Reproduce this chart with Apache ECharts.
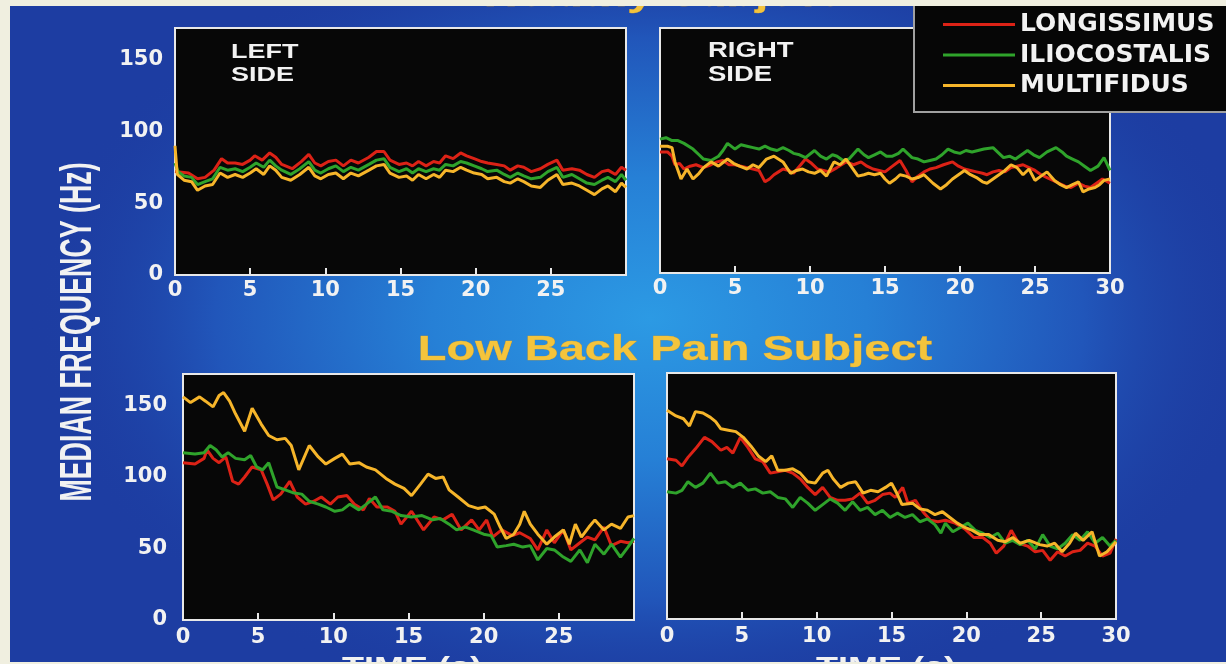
<!DOCTYPE html>
<html><head><meta charset="utf-8">
<script src="https://cdn.jsdelivr.net/npm/echarts@6/dist/echarts.min.js"></script>
<style>html,body{margin:0;padding:0;background:#f0efe0;}#c{width:1226px;height:664px;}</style>
</head><body><div id="c"></div>
<script>
// ---- data (time in s, median frequency in Hz) ----
const muscles = ['LONGISSIMUS', 'ILIOCOSTALIS', 'MULTIFIDUS'];
const muscleColors = ['#dc2216', '#2fa32b', '#f6b52a'];
const timeTicks = [0, 5, 10, 15, 20, 25, 30];
const freqTicks = [0, 50, 100, 150];
const freqMax = 172;

// Healthy subject, left side
const hlLongissimus = [[0,72],[0.9,71],[1.5,67],[2,68],[2.6,73],[3.1,81],[3.5,78],[4,78],[4.5,77],[5,80],[5.3,83],[5.8,80],[6.3,85],[6.7,82],[7.1,77],[7.8,74],[8.4,79],[8.9,84],[9.3,78],[9.7,76],[10.2,79],[10.7,80],[11.2,76],[11.7,80],[12.2,78],[12.9,82],[13.4,86],[13.9,86],[14.3,80],[14.9,77],[15.4,78],[15.8,76],[16.2,79],[16.7,76],[17.2,79],[17.6,78],[18,83],[18.5,81],[19,85],[19.4,83],[19.9,81],[20.4,79],[20.8,78],[21.4,77],[21.9,76],[22.3,73],[22.8,76],[23.2,75],[23.7,72],[24.3,74],[24.8,77],[25.4,80],[25.8,73],[26.4,74],[26.9,73],[27.4,70],[27.9,68],[28.4,72],[28.8,73],[29.3,70],[29.7,75],[30,73]];
const hlIliocostalis = [[0,78],[0.2,72],[0.6,69],[1.1,68],[1.5,63],[2,65],[2.5,67],[3,75],[3.5,73],[4,74],[4.5,72],[5,75],[5.4,78],[5.9,75],[6.3,80],[6.7,76],[7.1,73],[7.7,70],[8.3,74],[8.9,79],[9.3,73],[9.7,71],[10.2,74],[10.7,76],[11.2,72],[11.7,75],[12.2,73],[12.9,77],[13.4,80],[13.9,81],[14.3,75],[14.9,72],[15.4,74],[15.8,71],[16.2,74],[16.7,72],[17.2,74],[17.6,73],[18,77],[18.5,76],[19,79],[19.4,78],[19.9,76],[20.4,74],[20.8,72],[21.4,73],[21.9,70],[22.3,68],[22.8,71],[23.2,69],[23.7,67],[24.3,68],[24.8,72],[25.4,75],[25.8,68],[26.4,70],[26.9,67],[27.4,64],[27.9,63],[28.4,66],[28.8,68],[29.3,65],[29.7,70],[30,66]];
const hlMultifidus = [[0,90],[0.15,70],[0.6,66],[1.1,65],[1.5,59],[2,62],[2.5,63],[3,71],[3.5,68],[4,70],[4.5,68],[5,71],[5.4,74],[5.9,70],[6.3,76],[6.7,73],[7.1,68],[7.7,66],[8.3,70],[8.9,75],[9.3,69],[9.7,67],[10.2,70],[10.7,71],[11.2,67],[11.7,71],[12.2,69],[12.9,73],[13.4,76],[13.9,77],[14.3,71],[14.9,68],[15.4,69],[15.8,66],[16.2,70],[16.7,67],[17.2,70],[17.6,68],[18,73],[18.5,72],[19,75],[19.4,73],[19.9,71],[20.4,70],[20.8,67],[21.4,68],[21.9,65],[22.3,64],[22.8,67],[23.2,65],[23.7,62],[24.3,61],[24.8,66],[25.4,70],[25.8,63],[26.4,64],[26.9,62],[27.4,59],[27.9,56],[28.4,60],[28.8,62],[29.3,58],[29.7,64],[30,61]];

// Healthy subject, right side
const hrLongissimus = [[0,85],[0.5,85],[0.8,82],[1.0,76],[1.3,77],[1.6,73],[2.0,75],[2.4,76],[2.9,74],[3.4,76],[3.8,78],[4.2,79],[4.6,76],[5.0,76],[5.4,75],[5.8,74],[6.2,73],[6.6,72],[7.0,64],[7.3,66],[7.6,69],[7.9,71],[8.2,73],[8.6,72],[8.9,70],[9.3,75],[9.7,80],[10.1,77],[10.5,73],[10.9,72],[11.3,71],[11.8,74],[12.4,78],[12.9,76],[13.4,78],[13.8,75],[14.2,73],[14.6,72],[15.0,71],[15.5,75],[16.0,79],[16.4,72],[16.8,64],[17.2,68],[17.6,71],[18.0,73],[18.4,74],[18.9,76],[19.5,78],[19.9,75],[20.3,73],[20.7,72],[21.1,71],[21.5,70],[21.8,69],[22.2,71],[22.6,72],[23.0,71],[23.4,74],[23.8,75],[24.2,76],[24.6,74],[25.0,72],[25.4,69],[25.8,67],[26.2,65],[26.6,63],[27.0,61],[27.4,60],[27.9,63],[28.3,61],[28.7,60],[29.1,63],[29.5,66],[30,63]];
const hrIliocostalis = [[0,94],[0.4,95],[0.8,93],[1.2,93],[1.6,91],[2.2,87],[2.6,83],[2.9,80],[3.4,79],[3.9,82],[4.2,86],[4.5,91],[5.0,87],[5.4,90],[5.8,89],[6.2,88],[6.6,87],[7.0,89],[7.4,87],[7.8,86],[8.2,88],[8.6,86],[8.9,84],[9.3,83],[9.7,81],[10.3,86],[10.7,82],[11.1,80],[11.5,83],[11.8,82],[12.2,79],[12.6,80],[13.2,87],[13.6,83],[13.9,81],[14.3,83],[14.7,85],[15.1,82],[15.5,82],[15.9,84],[16.2,87],[16.5,84],[16.8,81],[17.2,80],[17.6,78],[18.0,79],[18.4,80],[18.8,83],[19.2,87],[19.6,85],[20.0,84],[20.4,86],[20.8,85],[21.2,86],[21.6,87],[22.2,88],[22.6,84],[22.9,81],[23.3,82],[23.7,80],[24.1,83],[24.5,86],[24.9,83],[25.3,81],[25.8,85],[26.4,88],[26.8,85],[27.1,82],[27.5,80],[27.9,78],[28.3,75],[28.7,72],[29.2,75],[29.6,81],[30,72]];
const hrMultifidus = [[0,89],[0.5,89],[0.8,88],[1.0,78],[1.4,66],[1.8,73],[2.2,66],[2.6,70],[2.9,74],[3.4,78],[3.9,75],[4.5,80],[4.9,77],[5.3,75],[5.8,73],[6.2,76],[6.6,74],[7.1,80],[7.6,82],[8.2,78],[8.7,70],[9.1,72],[9.5,73],[9.9,71],[10.3,70],[10.7,72],[11.1,68],[11.6,78],[12.0,76],[12.4,80],[12.8,74],[13.2,68],[13.6,69],[13.9,70],[14.3,69],[14.7,70],[15.0,66],[15.3,63],[15.7,66],[16.0,69],[16.4,68],[16.8,66],[17.2,67],[17.6,69],[18.2,63],[18.7,59],[19.1,62],[19.5,66],[19.9,69],[20.3,72],[20.7,69],[21.1,67],[21.5,64],[21.8,63],[22.2,66],[22.6,69],[23.0,72],[23.4,76],[23.8,74],[24.2,69],[24.6,73],[25.0,65],[25.4,68],[25.8,71],[26.3,65],[26.7,62],[27.1,60],[27.5,62],[27.9,64],[28.2,57],[28.6,59],[29.0,60],[29.3,62],[29.6,65],[30,66]];

// Low back pain subject, left side
const llLongissimus = [[0,110],[0.8,109],[1.4,113],[1.6,119],[2.0,113],[2.4,110],[2.85,114],[3.3,97],[3.7,95],[4.1,100],[4.6,107],[5.2,105],[5.6,95],[6.0,84],[6.5,88],[7.1,97],[7.6,86],[8.15,81],[8.7,83],[9.2,86],[9.8,81],[10.3,86],[10.9,87],[11.4,81],[12.0,77],[12.4,85],[12.9,79],[13.6,79],[14.1,76],[14.5,67],[15.2,76],[16.0,63],[16.7,72],[17.3,70],[17.9,74],[18.5,63],[19.2,70],[19.7,63],[20.2,70],[20.6,58],[21.2,63],[21.9,59],[22.4,61],[23.1,57],[23.6,49],[24.2,63],[24.7,54],[25.3,63],[25.8,49],[26.4,54],[26.9,58],[27.4,56],[28.0,65],[28.5,52],[29.1,55],[29.6,54],[30,55]];
const llIliocostalis = [[0,117],[0.8,116],[1.4,117],[1.8,122],[2.2,119],[2.6,114],[3.0,117],[3.5,113],[4.1,112],[4.5,115],[4.9,107],[5.3,105],[5.7,110],[6.25,93],[6.8,91],[7.3,89],[7.9,88],[8.4,83],[9.0,81],[9.5,79],[10.1,76],[10.6,77],[11.1,81],[11.7,77],[12.2,81],[12.8,86],[13.3,77],[13.9,76],[14.5,73],[15.2,72],[15.9,73],[16.6,70],[17.1,71],[17.7,67],[18.2,63],[18.8,65],[19.3,63],[20.0,60],[20.5,59],[20.9,51],[21.5,52],[22.0,53],[22.6,51],[23.1,52],[23.6,42],[24.2,50],[24.7,49],[25.3,44],[25.8,41],[26.4,49],[26.9,40],[27.4,53],[28.0,46],[28.5,53],[29.1,44],[29.6,51],[30,57]];
const llMultifidus = [[0,156],[0.5,152],[1.1,156],[1.5,153],[2.0,149],[2.4,157],[2.7,159],[3.1,153],[3.5,144],[4.1,132],[4.6,148],[5.2,137],[5.7,129],[6.25,126],[6.8,127],[7.2,122],[7.7,105],[8.4,122],[9.0,114],[9.5,109],[10.1,113],[10.6,116],[11.1,109],[11.7,110],[12.2,107],[12.8,105],[13.5,99],[14.1,95],[14.7,92],[15.2,87],[15.8,95],[16.3,102],[16.8,99],[17.3,100],[17.7,91],[18.3,86],[19.0,80],[19.6,78],[20.1,79],[20.7,74],[21.1,65],[21.5,57],[22.0,60],[22.4,67],[22.7,76],[23.1,67],[23.6,60],[24.2,53],[24.7,58],[25.3,63],[25.7,53],[26.1,67],[26.5,58],[27.0,65],[27.4,70],[28.0,63],[28.5,67],[29.1,64],[29.6,72],[30,73]];

// Low back pain subject, right side
const lrLongissimus = [[0,112],[0.6,111],[1.0,107],[1.4,113],[1.9,119],[2.5,127],[3.0,124],[3.6,118],[4.0,120],[4.4,116],[4.9,127],[5.4,120],[5.9,112],[6.4,110],[6.9,102],[7.4,103],[7.9,104],[8.4,102],[8.9,98],[9.4,92],[9.9,87],[10.4,92],[10.9,85],[11.4,83],[11.9,83],[12.4,84],[12.9,88],[13.4,81],[13.9,83],[14.4,87],[14.9,88],[15.25,85],[15.75,92],[16.1,81],[16.6,83],[17.1,75],[17.6,69],[18.1,68],[18.6,69],[19.25,67],[19.9,63],[20.5,57],[21.1,57],[21.6,53],[22.0,46],[22.5,51],[23.0,62],[23.5,53],[24.1,51],[24.6,47],[25.1,48],[25.6,41],[26.1,47],[26.6,44],[27.1,47],[27.6,48],[28.1,53],[28.6,51],[29.1,44],[29.6,46],[30,56]];
const lrIliocostalis = [[0,89],[0.6,88],[1.0,90],[1.4,96],[1.9,92],[2.4,95],[2.9,102],[3.4,95],[3.9,96],[4.4,92],[4.9,95],[5.4,90],[5.9,91],[6.4,88],[6.9,89],[7.4,85],[7.9,84],[8.4,78],[8.9,85],[9.4,81],[9.9,76],[10.4,80],[10.9,84],[11.4,81],[11.9,76],[12.4,82],[12.9,76],[13.4,78],[13.9,73],[14.4,76],[14.9,71],[15.4,74],[15.9,71],[16.4,73],[16.9,68],[17.4,70],[17.9,66],[18.3,60],[18.6,67],[19.1,61],[19.6,64],[20.1,67],[20.6,62],[21.1,60],[21.6,57],[22.1,60],[22.6,53],[23.1,55],[23.6,52],[24.1,55],[24.6,49],[25.1,59],[25.6,51],[26.1,49],[26.6,53],[27.1,59],[27.6,55],[28.1,61],[28.6,53],[29.1,57],[29.6,51],[30,55]];
const lrMultifidus = [[0,146],[0.6,142],[1.1,140],[1.5,135],[1.9,145],[2.4,144],[2.9,141],[3.25,138],[3.6,133],[4.1,132],[4.6,131],[5.1,127],[5.6,121],[6.1,114],[6.6,110],[7.0,114],[7.4,104],[7.9,104],[8.4,105],[8.9,102],[9.4,96],[9.9,95],[10.4,102],[10.75,104],[11.1,98],[11.6,92],[12.1,95],[12.6,96],[13.1,88],[13.6,90],[14.1,89],[14.6,92],[15.0,95],[15.4,87],[15.7,80],[16.4,81],[16.9,77],[17.4,76],[17.9,73],[18.4,75],[18.9,71],[19.4,67],[19.9,64],[20.4,62],[20.9,59],[21.5,59],[22.1,55],[22.6,54],[23.1,57],[23.6,53],[24.2,55],[24.9,52],[25.4,51],[25.9,53],[26.4,47],[26.9,53],[27.3,60],[27.8,55],[28.4,61],[28.9,44],[29.4,47],[30,54]];

const panels = [
  [hlLongissimus, hlIliocostalis, hlMultifidus],
  [hrLongissimus, hrIliocostalis, hrMultifidus],
  [llLongissimus, llIliocostalis, llMultifidus],
  [lrLongissimus, lrIliocostalis, lrMultifidus]
];

// ---- layout ----
const grids = [
  {left: 175, top: 28, width: 451, height: 247},
  {left: 660, top: 28, width: 450, height: 245},
  {left: 183, top: 374, width: 451, height: 246},
  {left: 667, top: 373, width: 449, height: 246}
];
const isLeft = [true, false, true, false];
const yLabelMargin = [12, 0, 16, 0];
const xLabelMargin = [5, 5, 7, 7];

const white = '#f2f2f2';
const yellowText = '#f4c43c';
const tickFont = {color: white, fontFamily: 'DejaVu Sans', fontWeight: 'bold', fontSize: 21};

const xAxes = grids.map((g, i) => ({
  type: 'value', gridIndex: i,
  min: timeTicks[0], max: timeTicks[timeTicks.length - 1],
  interval: timeTicks[1] - timeTicks[0],
  axisLine: {show: true, lineStyle: {color: '#e8e8e8', width: 2}},
  axisTick: {show: true, inside: true, length: 7, lineStyle: {color: '#e8e8e8', width: 2}},
  splitLine: {show: false},
  axisLabel: Object.assign({margin: xLabelMargin[i], showMaxLabel: !isLeft[i]}, tickFont)
}));
const yAxes = grids.map((g, i) => ({
  type: 'value', gridIndex: i,
  min: freqTicks[0], max: freqMax,
  interval: freqTicks[1] - freqTicks[0],
  axisLine: {show: true, lineStyle: {color: '#e8e8e8', width: 2}},
  axisTick: {show: false},
  splitLine: {show: false},
  axisLabel: Object.assign({show: isLeft[i], margin: yLabelMargin[i], showMaxLabel: false}, tickFont)
}));

const series = [];
panels.forEach((p, i) => {
  p.forEach((d, k) => {
    series.push({
      type: 'line', name: muscles[k], xAxisIndex: i, yAxisIndex: i,
      data: d, symbol: 'none', smooth: false, animation: false,
      color: muscleColors[k],
      lineStyle: {color: muscleColors[k], width: 3},
      itemStyle: {color: muscleColors[k]},
      z: 3 + k
    });
  });
});

function txt(text, x, y, opt) {
  return Object.assign({
    type: 'text', x: x, y: y, z: 50,
    style: Object.assign({text: text, x: 0, y: 0, fill: white,
      font: opt.font, align: opt.align || 'left', verticalAlign: 'middle'}, opt.style || {})
  }, opt.t || {});
}

const titleFont = 'bold 47px "Liberation Sans", Arial, sans-serif';
const graphic = [
  {type: 'circle', z: -10, x: 650, y: 318, scaleX: 1.55, scaleY: 1,
   shape: {cx: 0, cy: 0, r: 400},
   style: {fill: {type: 'radial', x: 0.5, y: 0.5, r: 0.5, colorStops: [
     {offset: 0, color: '#2c9ae4'}, {offset: 0.35, color: '#2680d6'},
     {offset: 0.7, color: '#2156ba'}, {offset: 1, color: 'rgba(29,60,160,0)'}]}}},
  txt('Healthy Subject', 660, -4, {font: titleFont, align: 'center', style: {fill: yellowText, stroke: '#d89a20', lineWidth: 0.6}, t: {scaleY: 0.745}}),
  txt('Low Back Pain Subject', 675, 350, {font: titleFont, align: 'center', style: {fill: yellowText, stroke: '#d89a20', lineWidth: 0.6}, t: {scaleY: 0.745}}),
  txt('TIME (s)', 412, 669, {font: 'bold 36px "Liberation Sans", Arial, sans-serif', align: 'center', t: {scaleY: 0.745}}),
  txt('TIME (s)', 886, 669, {font: 'bold 36px "Liberation Sans", Arial, sans-serif', align: 'center', t: {scaleY: 0.745}}),
  txt('LEFT', 231, 52.5, {font: 'bold 27px "Liberation Sans", Arial, sans-serif', t: {scaleY: 0.78}}),
  txt('SIDE', 231, 75.5, {font: 'bold 27px "Liberation Sans", Arial, sans-serif', t: {scaleY: 0.78}}),
  txt('RIGHT', 708, 51, {font: 'bold 27.5px "Liberation Sans", Arial, sans-serif', t: {scaleY: 0.78}}),
  txt('SIDE', 708, 75, {font: 'bold 27.5px "Liberation Sans", Arial, sans-serif', t: {scaleY: 0.78}}),
  txt('MEDIAN FREQUENCY (Hz)', 79, 332, {font: 'bold 45px "Liberation Sans", Arial, sans-serif', align: 'center', t: {rotation: Math.PI / 2, scaleX: 0.595}}),
  {type: 'rect', z: 100, shape: {x: 0, y: 0, width: 1226, height: 6}, style: {fill: '#f0efe0'}},
  {type: 'rect', z: 100, shape: {x: 0, y: 0, width: 10, height: 664}, style: {fill: '#f0efe0'}},
  {type: 'rect', z: 100, shape: {x: 0, y: 662, width: 1226, height: 2}, style: {fill: '#f0efe0'}}
];

const chart = echarts.init(document.getElementById('c'), null, {renderer: 'canvas'});
chart.setOption({
  animation: false,
  backgroundColor: '#1d3da2',
  grid: grids.map(g => Object.assign({show: true, backgroundColor: '#070707', borderColor: '#e8e8e8', borderWidth: 2, containLabel: false}, g)),
  xAxis: xAxes,
  yAxis: yAxes,
  legend: {
    data: muscles, orient: 'vertical', left: 914, top: 0,
    padding: [11, 30, 13, 29], itemGap: 3.5,
    icon: 'rect', itemWidth: 72, itemHeight: 3, itemTextGap: 14,
    backgroundColor: '#060606', borderColor: '#a0a0a0', borderWidth: 2,
    textStyle: {color: white, fontFamily: 'DejaVu Sans', fontWeight: 'bold', fontSize: 25, lineHeight: 27, padding: [0, 0, 0, 0]},
    itemStyle: {borderWidth: 0},
    selectedMode: false
  },
  graphic: graphic,
  series: series
});
</script>
</body></html>
